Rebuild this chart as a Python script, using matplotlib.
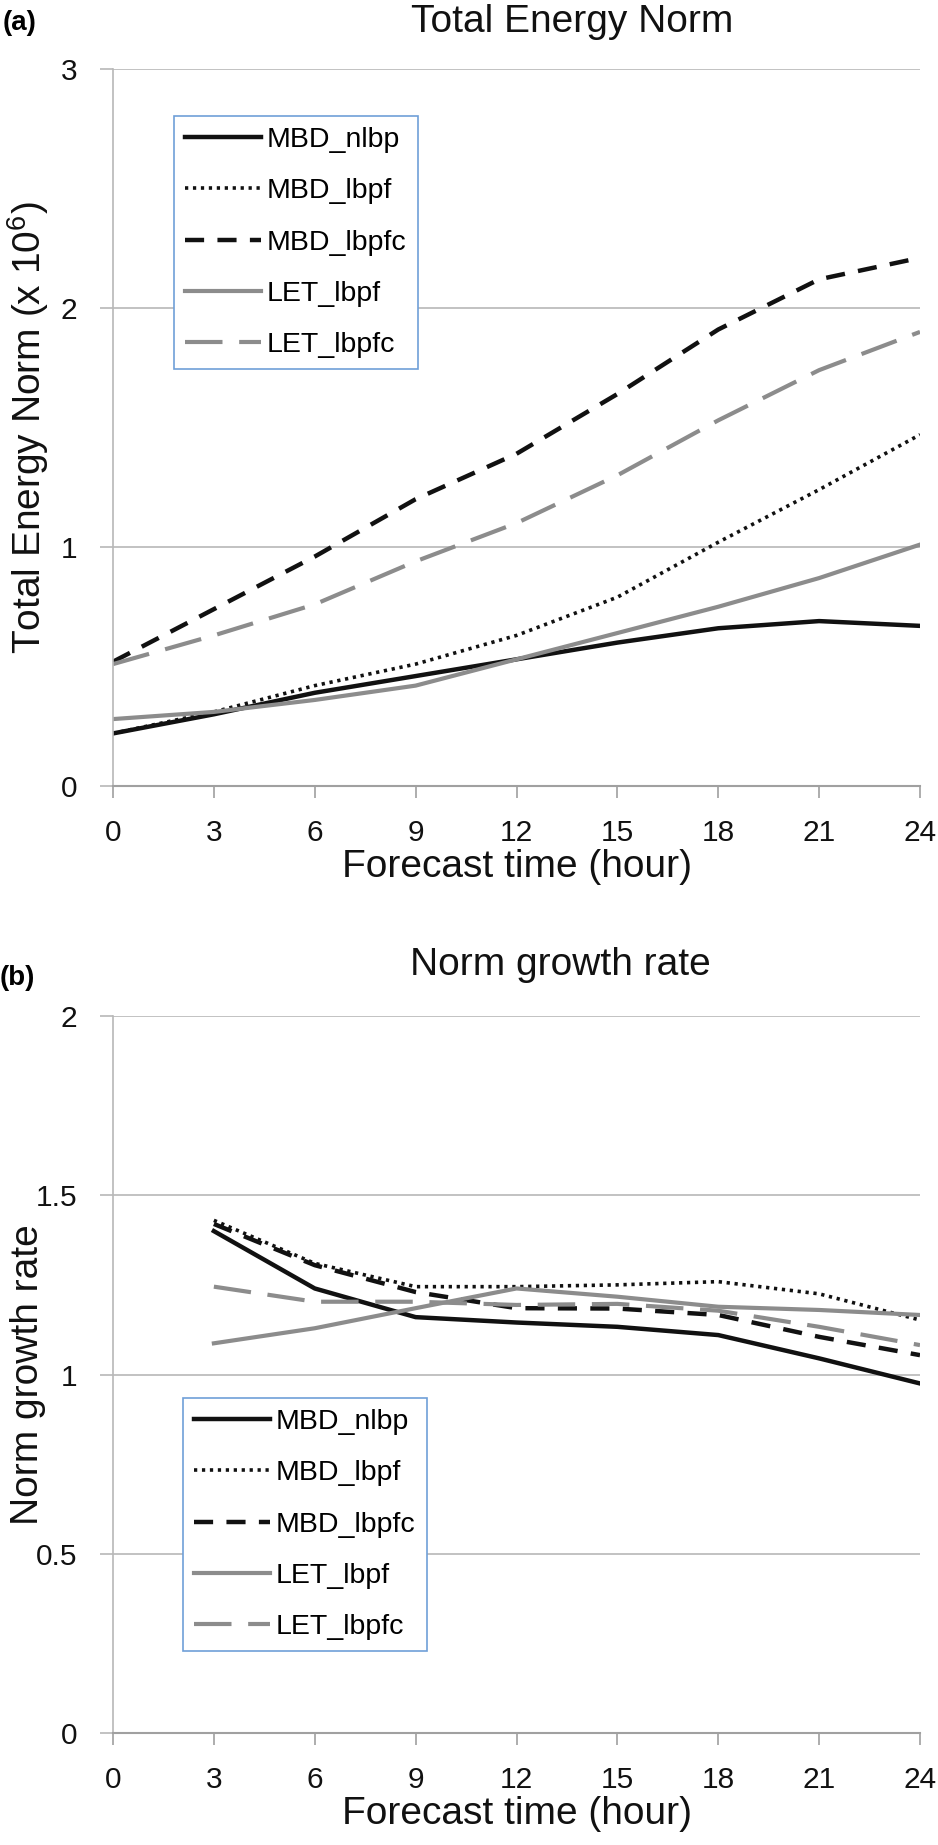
import matplotlib
matplotlib.use("Agg")
import matplotlib.pyplot as plt

plt.rcParams['font.family'] = ['Liberation Sans', 'DejaVu Sans']
plt.rcParams['mathtext.fontset'] = 'custom'
plt.rcParams['mathtext.rm'] = 'Liberation Sans'
plt.rcParams['mathtext.default'] = 'regular'

# ---------------- data ----------------
hours_a = [0, 3, 6, 9, 12, 15, 18, 21, 24]
mbd_nlbp_a = [0.22, 0.30, 0.39, 0.46, 0.53, 0.60, 0.66, 0.69, 0.67]
mbd_lbpf_a = [0.22, 0.31, 0.42, 0.51, 0.63, 0.79, 1.02, 1.24, 1.47]
mbd_lbpfc_a = [0.52, 0.74, 0.96, 1.20, 1.39, 1.64, 1.91, 2.12, 2.21]
let_lbpf_a = [0.28, 0.31, 0.36, 0.42, 0.53, 0.64, 0.75, 0.87, 1.01]
let_lbpfc_a = [0.51, 0.63, 0.76, 0.94, 1.10, 1.30, 1.53, 1.74, 1.90]

hours_b = [3, 6, 9, 12, 15, 18, 21, 24]
mbd_nlbp_b = [1.40, 1.24, 1.16, 1.145, 1.133, 1.11, 1.045, 0.975]
mbd_lbpf_b = [1.43, 1.31, 1.245, 1.245, 1.25, 1.259, 1.225, 1.152]
mbd_lbpfc_b = [1.42, 1.305, 1.23, 1.185, 1.184, 1.166, 1.105, 1.054]
let_lbpf_b = [1.087, 1.129, 1.185, 1.24, 1.217, 1.189, 1.18, 1.166]
let_lbpfc_b = [1.245, 1.203, 1.203, 1.194, 1.197, 1.178, 1.133, 1.082]

labels = ['MBD_nlbp', 'MBD_lbpf', 'MBD_lbpfc', 'LET_lbpf', 'LET_lbpfc']
xticks = [0, 3, 6, 9, 12, 15, 18, 21, 24]
yticks_a = [0, 1, 2, 3]
yticks_b = [0, 0.5, 1, 1.5, 2]
yticklabels_b = ['0', '0.5', '1', '1.5', '2']

# ---------------- styling ----------------
W, H = 938, 1845
fig = plt.figure(figsize=(W / 100, H / 100), dpi=100)

BLACK = '#111111'
GRAY = '#8c8c8c'
GRID = '#b8b8b8'
styles = [
    dict(color=BLACK, lw=3.2, ls='-'),
    dict(color=BLACK, lw=2.6, ls=(0, (0.9, 1.3))),
    dict(color=BLACK, lw=3.2, ls=(0, (4.3, 3.0))),
    dict(color=GRAY, lw=3.0, ls='-'),
    dict(color=GRAY, lw=3.0, ls=(0, (9, 4))),
]

def px_axes(left, right, top, bottom):
    return fig.add_axes([left / W, 1 - bottom / H, (right - left) / W, (bottom - top) / H])

def style_axes(ax, yticks, yticklabels, ylim):
    ax.set_xlim(0, 24)
    ax.set_ylim(*ylim)
    ax.set_xticks(xticks)
    ax.set_yticks(yticks)
    ax.set_yticklabels(yticklabels)
    ax.yaxis.grid(True, color=GRID, lw=1.2)
    ax.set_axisbelow(True)
    for s in ['top', 'right']:
        ax.spines[s].set_visible(False)
    ax.spines['left'].set_color(GRID)
    ax.spines['left'].set_linewidth(1.2)
    ax.spines['bottom'].set_color('#a0a0a0')
    ax.spines['bottom'].set_linewidth(1.5)
    ax.tick_params(axis='x', direction='out', length=8.5, width=1.2, color='#a0a0a0',
                   labelsize=21.5, pad=15, labelcolor='#111111')
    ax.tick_params(axis='y', direction='out', length=9.5, width=1.2, color=GRID,
                   labelsize=21.5, pad=16, labelcolor='#111111')
    ax.set_xlabel('Forecast time (hour)', fontsize=28, labelpad=2, color='#111111')

def add_legend(ax, anchor):
    leg = ax.legend(loc='upper left', bbox_to_anchor=anchor, borderaxespad=0,
                    fontsize=20.5, handlelength=2.67, handletextpad=0.2,
                    labelspacing=0.88, borderpad=0.4, fancybox=False,
                    framealpha=1, edgecolor='#6f9fd8')
    leg.get_frame().set_linewidth(1.2)
    return leg

# ---------------- panel (a) ----------------
ax1 = px_axes(113, 920, 69, 786)
series_a = [mbd_nlbp_a, mbd_lbpf_a, mbd_lbpfc_a, let_lbpf_a, let_lbpfc_a]
for ys, lab, st in zip(series_a, labels, styles):
    ax1.plot(hours_a, ys, label=lab, **st)
style_axes(ax1, yticks_a, [str(v) for v in yticks_a], (0, 3))
ax1.set_ylabel('Total Energy Norm (x 10$^{6}$)', fontsize=28, va='center', color='#111111')
ax1.yaxis.set_label_coords((28 - 113) / 807, 0.5)
add_legend(ax1, ((174 - 113) / 807, (786 - 116) / 717))

# ---------------- panel (b) ----------------
ax2 = px_axes(113, 920, 1016, 1733)
series_b = [mbd_nlbp_b, mbd_lbpf_b, mbd_lbpfc_b, let_lbpf_b, let_lbpfc_b]
for ys, lab, st in zip(series_b, labels, styles):
    ax2.plot(hours_b, ys, label=lab, **st)
style_axes(ax2, yticks_b, yticklabels_b, (0, 2))
ax2.set_ylabel('Norm growth rate', fontsize=28, va='center', color='#111111')
ax2.yaxis.set_label_coords((28 - 113) / 807, 0.5)
add_legend(ax2, ((183 - 113) / 807, (1733 - 1398) / 717))

# ---------------- titles ----------------
fig.text(572 / W, 1 - 32 / H, 'Total Energy Norm', fontsize=28, ha='center', va='baseline', color='#111111')
fig.text(560 / W, 1 - 975 / H, 'Norm growth rate', fontsize=28, ha='center', va='baseline', color='#111111')
fig.text(3 / W, 1 - 30 / H, '(a)', fontsize=20, fontweight='bold', ha='left', va='baseline')
fig.text(0 / W, 1 - 985 / H, '(b)', fontsize=20, fontweight='bold', ha='left', va='baseline')

fig.savefig('out.png', dpi=100)
